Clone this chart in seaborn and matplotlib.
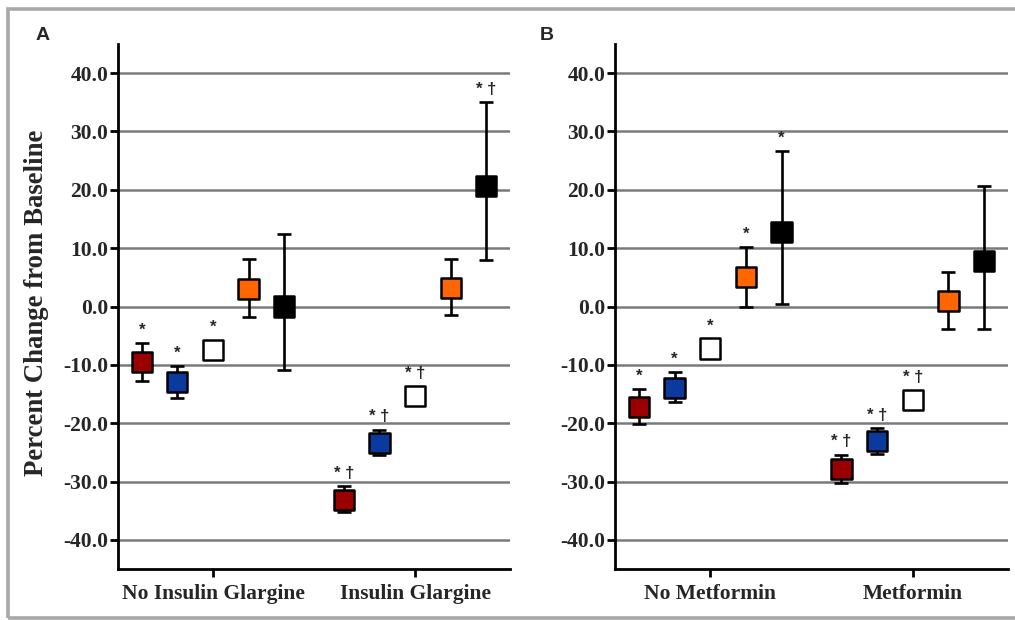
import numpy as np
import pandas as pd
import matplotlib
matplotlib.use("Agg")
import matplotlib.pyplot as plt
import seaborn as sns
from matplotlib.patches import Rectangle

# ---------------- data ----------------
series = ["s1", "s2", "s3", "s4", "s5"]
series_colors = ["#9B0000", "#0A3A9E", "#FFFFFF", "#FF6600", "#000000"]

groups_A = ["No Insulin Glargine", "Insulin Glargine"]
mean_A = [[-9.5, -13.0, -7.4, 3.0, 0.0],
          [-33.1, -23.4, -15.4, 3.1, 20.6]]
upper_A = [[-6.2, -10.2, -6.6, 8.1, 12.4],
           [-30.8, -21.1, -14.6, 8.1, 35.0]]
lower_A = [[-12.7, -15.6, -8.2, -1.8, -10.9],
           [-35.3, -25.5, -16.2, -1.5, 7.9]]
marks_A = [["*", "*", "*", "", ""],
           ["* †", "* †", "* †", "", "* †"]]

groups_B = ["No Metformin", "Metformin"]
mean_B = [[-17.2, -13.9, -7.2, 5.0, 12.8],
          [-27.9, -23.1, -16.0, 1.0, 7.8]]
upper_B = [[-14.1, -11.2, -6.4, 10.2, 26.7],
           [-25.4, -20.8, -15.2, 5.9, 20.7]]
lower_B = [[-20.1, -16.4, -8.0, 0.0, 0.5],
           [-30.3, -25.2, -16.8, -3.8, -3.8]]
marks_B = [["*", "*", "*", "*", "*"],
           ["* †", "* †", "* †", "", ""]]

yticks = [-40, -30, -20, -10, 0, 10, 20, 30, 40]
ylabel = "Percent Change from Baseline"

# ---------------- style ----------------
sns.set_theme(style="white")
plt.rcParams["font.family"] = ["Liberation Serif", "DejaVu Serif"]

W, H = 1015, 620
fig = plt.figure(figsize=(W / 100, H / 100), dpi=100)

# grey frame around figure
fig.patches.append(Rectangle((7.5 / W, 1 - 617.5 / H), 1.2, (617.5 - 8.5) / H,
                             transform=fig.transFigure, fill=False,
                             edgecolor="#A8A8A8", linewidth=2.6, zorder=0))

offset = 0.176
msize_pt = 14.5


def panel(ax, groups, mean, upper, lower, marks, letter, lx):
    rows = []
    for g, gname in enumerate(groups):
        for k, s in enumerate(series):
            rows.append(dict(x=g + (k - 2) * offset, mean=mean[g][k],
                             hi=upper[g][k], lo=lower[g][k],
                             series=s, mark=marks[g][k]))
    df = pd.DataFrame(rows)
    for y in yticks:
        ax.axhline(y, color="#7A7A7A", lw=1.8, zorder=1)
    ax.errorbar(df["x"], df["mean"],
                yerr=[df["mean"] - df["lo"], df["hi"] - df["mean"]],
                fmt="none", ecolor="black", elinewidth=1.9, capsize=5,
                capthick=1.9, zorder=2)
    sns.scatterplot(data=df, x="x", y="mean", hue="series",
                    palette=dict(zip(series, series_colors)), marker="s",
                    s=msize_pt ** 2, edgecolor="black", linewidth=1.8,
                    legend=False, zorder=3, ax=ax)
    # significance markers
    half = (msize_pt / 2) / 72 * 100  # px
    for _, r in df.iterrows():
        if not r["mark"]:
            continue
        top_px = ax.transData.transform((0, r["hi"]))[1]
        c_px = ax.transData.transform((0, r["mean"]))[1]
        anchor = max(top_px, c_px + half)
        y_data = ax.transData.inverted().transform((0, anchor + 13))[1]
        ax.text(r["x"], y_data, r["mark"], ha="center", va="center",
                fontsize=12, fontweight="bold",
                family=["Liberation Sans", "DejaVu Sans"], zorder=4)
    ax.set_xlim(-0.47, 1.47)
    ax.set_ylim(-45, 45)
    ax.set_yticks(yticks)
    ax.set_yticklabels([f"{v:.1f}" for v in yticks])
    ax.set_xticks([0, 1])
    ax.set_xticklabels(groups)
    ax.set_xlabel("")
    ax.set_ylabel("")
    for sp in ["top", "right"]:
        ax.spines[sp].set_visible(False)
    for sp in ["left", "bottom"]:
        ax.spines[sp].set_linewidth(2)
        ax.spines[sp].set_color("black")
    ax.tick_params(axis="both", which="both", direction="out", length=6,
                   width=2, color="black", left=True, bottom=True)
    ax.tick_params(axis="y", labelsize=15.5, pad=1)
    ax.tick_params(axis="x", labelsize=15.5, pad=5)
    for t in ax.get_xticklabels() + ax.get_yticklabels():
        t.set_fontweight("bold")
    fig.text(lx / W, 1 - 35 / H, letter, ha="center", va="center",
             fontsize=14, fontweight="bold",
             family=["Liberation Sans", "DejaVu Sans"])


axA = fig.add_axes([118 / W, 1 - 569 / H, 392 / W, 525 / H])
axB = fig.add_axes([615 / W, 1 - 569 / H, 393 / W, 525 / H])
panel(axA, groups_A, mean_A, upper_A, lower_A, marks_A, "A", 43)
panel(axB, groups_B, mean_B, upper_B, lower_B, marks_B, "B", 547)

fig.text(37 / W, 1 - 303 / H, ylabel, rotation=90, ha="center", va="center",
         fontsize=19.3, fontweight="bold")

fig.savefig("out.png", dpi=100)
